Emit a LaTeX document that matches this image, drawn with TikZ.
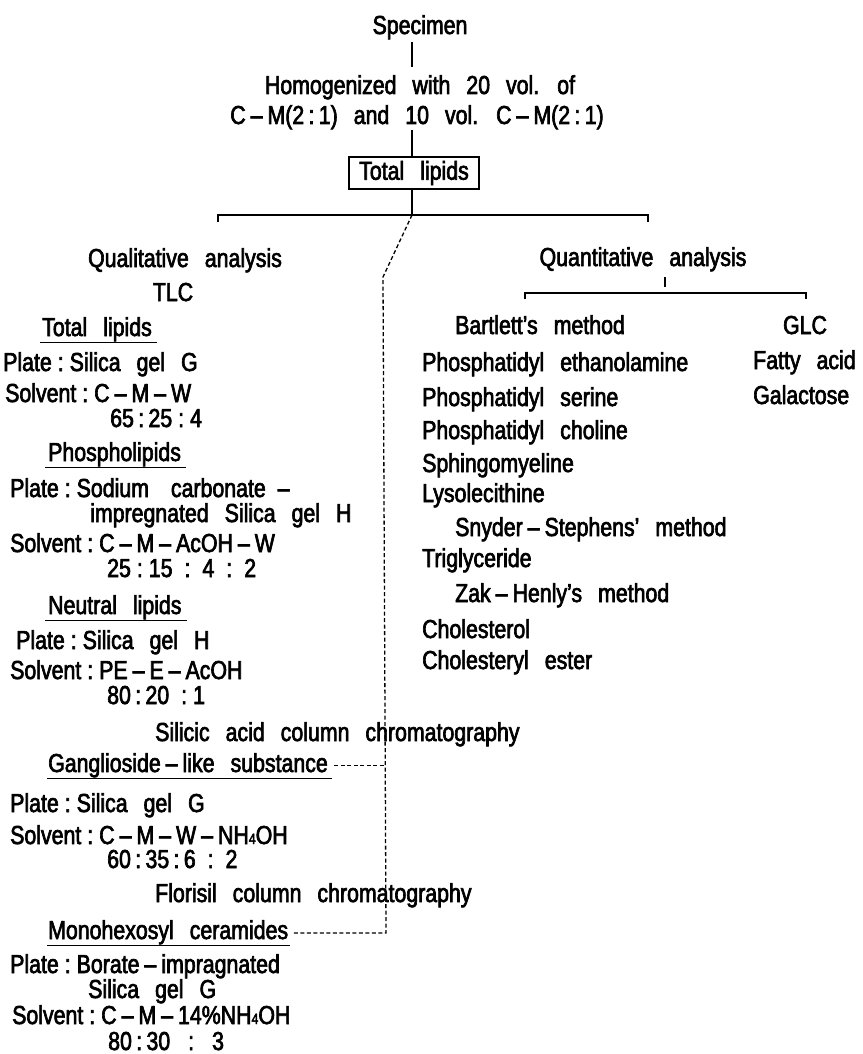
\documentclass[tikz,border=0pt]{standalone}
\usepackage{fontspec}
\setmainfont{Liberation Sans}[FakeStretch=0.82, FakeBold=2.5, WordSpace=2.7]
\newcommand\hs{\hspace{6pt}}
\newcommand\dsh{\hspace{5pt}–\hspace{5pt}}
\newcommand\subf{{\fontsize{15}{15}\selectfont 4}}
\begin{document}
\begin{tikzpicture}[x=1pt,y=-1pt,
  every node/.style={inner sep=0pt, font=\fontsize{26}{30}\selectfont},
  lt/.style={anchor=base west},
  ct/.style={anchor=base},
  main/.style={line width=2.8pt},
  ul/.style={line width=1.6pt},
  dl/.style={line width=1.3pt, dash pattern=on 4pt off 2.5pt}]
\useasboundingbox (0,0) rectangle (862,1054);
% top
\node[ct] (spec) at (420,34) {Specimen};
\coordinate (t1a) at (412,42); \coordinate (t1b) at (412,67);
\draw[main] (t1a) -- (t1b);
\node[ct] (hom1) at (420,94) {Homogenized with 20 vol. of};
\node[ct] (hom2) at (417,124) {C\dsh M(2\,:\,1) and 10 vol. C\dsh M(2\,:\,1)};
\coordinate (t2a) at (412,130);
\node[draw, line width=1.6pt, minimum width=130pt, minimum height=32pt] (tl) at (414,173) {Total lipids};
\draw[main] (t2a) -- (tl.north -| t2a);
\coordinate (bar) at (412,215);
\draw[main] (tl.south -| bar) -- (bar);
\coordinate (barL) at (218,215); \coordinate (barR) at (648,215);
\coordinate (barLd) at (218,222); \coordinate (barRd) at (648,222);
\draw[main] (barLd) -- (barL) -- (barR) -- (barRd);
% dashed
\coordinate (dk) at (383,277); \coordinate (dm) at (386,933);
% left
\node[ct] (qual) at (185,267) {Qualitative analysis};
\node[ct] (tlc) at (173,301) {TLC};
\node[lt] (h1) at (42,336) {Total lipids};
\draw[ul] ([xshift=-2pt,yshift=-1pt]h1.south west) -- ([xshift=5pt,yshift=-1pt]h1.south east);
\node[lt] (p1) at (3,371) {Plate\hs:\hs Silica gel G};
\node[lt] (s1) at (5,402) {Solvent\hs:\hs C\dsh M\dsh W};
\node[lt] (r1) at (110,427) {65\,:\,25\hs:\hs4};
\node[lt] (h2) at (48,461) {Phospholipids};
\draw[ul] ([xshift=-3pt,yshift=-1pt]h2.south west) -- ([xshift=5pt,yshift=-1pt]h2.south east);
\node[lt] (p2) at (10,497) {Plate\hs:\hs Sodium\hspace{6pt} carbonate\hspace{12pt}–};
\node[lt] (p2b) at (90,522) {impregnated Silica gel H};
\node[lt] (s2) at (10,552) {Solvent\hs:\hs C\dsh M\dsh AcOH\dsh W};
\node[lt] (r2) at (107,577) {25\hs:\hs15\hs\hs:\hs\hs4\hs\hs:\hs\hs2};
\node[lt] (h3) at (48,614) {Neutral lipids};
\draw[ul] ([xshift=-3pt,yshift=-1pt]h3.south west) -- ([xshift=5pt,yshift=-1pt]h3.south east);
\node[lt] (p3) at (16,649) {Plate\hs:\hs Silica gel H};
\node[lt] (s3) at (10,679) {Solvent\hs:\hs PE\dsh E\dsh AcOH};
\node[lt] (r3) at (107,704) {80\,:\,20\hs\hs:\hs1};
\node[lt] (sil) at (155,741) {Silicic acid column chromatography};
\node[lt] (h4) at (48,772) {Ganglioside\dsh like substance};
\draw[ul] ([xshift=-1pt,yshift=-1pt]h4.south west) -- ([xshift=4pt,yshift=-1pt]h4.south east);
\node[lt] (p4) at (10,812) {Plate\hs:\hs Silica gel G};
\node[lt] (s4) at (10,844) {Solvent\hs:\hs C\dsh M\dsh W\dsh NH\subf OH};
\node[lt] (r4) at (107,868) {60\,:\,35\,:\,6\hs\hs:\hs\hs2};
\node[lt] (flo) at (155,902) {Florisil column chromatography};
\node[lt] (h5) at (48,939) {Monohexosyl ceramides};
\draw[ul] ([xshift=-1pt,yshift=-1pt]h5.south west) -- ([xshift=2pt,yshift=-1pt]h5.south east);
\node[lt] (p5) at (10,973) {Plate\hs:\hs Borate\dsh impragnated};
\node[lt] (p5b) at (88,998) {Silica gel G};
\node[lt] (s5) at (12,1024) {Solvent\hs:\hs C\dsh M\dsh 14\%NH\subf OH};
\node[lt] (r5) at (108,1050) {80\,:\,30\hs\hs\hs:\hs\hs\hs3};
% dashed connectors
\draw[dl] (bar) -- (dk) -- (dm) -- ([xshift=5pt]h5.east |- dm);
\draw[dl] ([xshift=6pt]h4.east) -- (h4.east -| dm);
% right
\node[ct] (quan) at (643,266) {Quantitative analysis};
\coordinate (q1) at (665,277); \coordinate (q2) at (665,287);
\draw[main] (q1) -- (q2);
\coordinate (qbL) at (525,293); \coordinate (qbR) at (806,293);
\coordinate (qbLd) at (525,299); \coordinate (qbRd) at (806,299);
\draw[main] (qbLd) -- (qbL) -- (qbR) -- (qbRd);
\node[lt] (bart) at (455,334) {Bartlett’s method};
\node[ct] (glc) at (805,334) {GLC};
\node[lt] (pe) at (422,371) {Phosphatidyl ethanolamine};
\node[lt] (fa) at (753,369) {Fatty acid};
\node[lt] (ps) at (422,406) {Phosphatidyl serine};
\node[lt] (ga) at (753,404) {Galactose};
\node[lt] (pc) at (422,439) {Phosphatidyl choline};
\node[lt] (sm) at (422,472) {Sphingomyeline};
\node[lt] (ly) at (422,502) {Lysolecithine};
\node[lt] (sn) at (455,536) {Snyder\dsh Stephens’ method};
\node[lt] (tg) at (422,567) {Triglyceride};
\node[lt] (zk) at (455,602) {Zak\dsh Henly’s method};
\node[lt] (ch) at (422,638) {Cholesterol};
\node[lt] (ce) at (422,669) {Cholesteryl ester};
\end{tikzpicture}
\end{document}
